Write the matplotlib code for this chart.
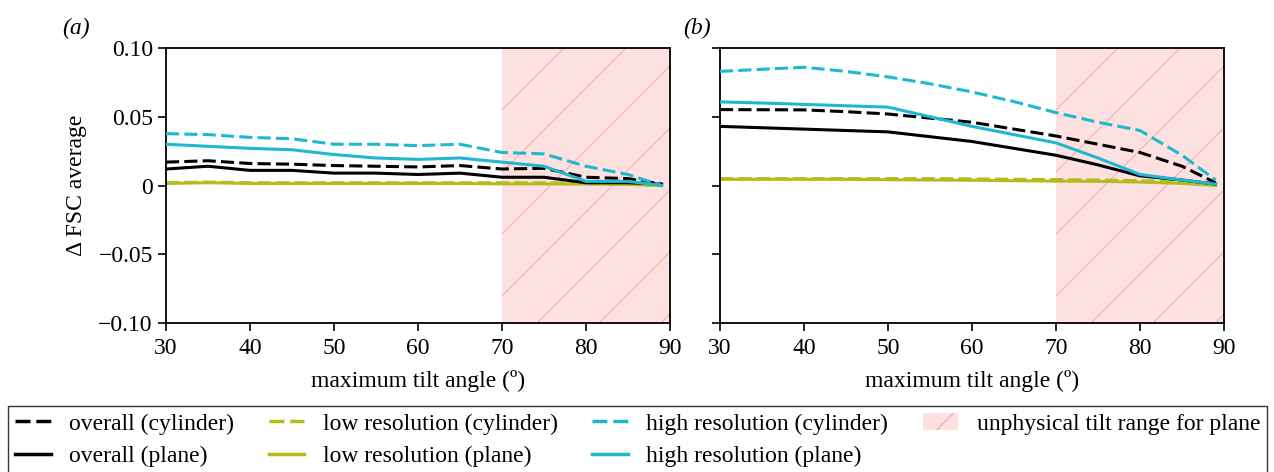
import numpy as np
import matplotlib
matplotlib.use('Agg')
import matplotlib.pyplot as plt
from matplotlib.lines import Line2D
from matplotlib.patches import Patch, Rectangle

plt.rcParams['font.family'] = 'Liberation Serif'

# data
angles = [30, 35, 40, 45, 50, 55, 60, 65, 70, 75, 80, 85, 89]

# (a)
a_overall_cyl = [0.017, 0.018, 0.016, 0.0155, 0.0145, 0.014, 0.0135, 0.0145, 0.012, 0.0125, 0.006, 0.005, 0.001]
a_overall_plane = [0.012, 0.014, 0.011, 0.011, 0.009, 0.009, 0.008, 0.009, 0.006, 0.006, 0.002, 0.002, 0.001]
a_low_cyl = [0.002, 0.0025, 0.002, 0.002, 0.002, 0.002, 0.002, 0.002, 0.002, 0.002, 0.0015, 0.001, 0.0]
a_low_plane = [0.0015, 0.002, 0.0015, 0.0015, 0.0015, 0.0015, 0.0015, 0.0015, 0.0012, 0.0012, 0.001, 0.0008, 0.0]
a_high_cyl = [0.0377, 0.037, 0.035, 0.034, 0.030, 0.030, 0.029, 0.030, 0.024, 0.023, 0.014, 0.008, 0.0]
a_high_plane = [0.030, 0.0285, 0.027, 0.026, 0.0225, 0.020, 0.019, 0.020, 0.017, 0.014, 0.003, 0.003, 0.0]

# (b)
b_overall_cyl = [0.0552, 0.0551, 0.055, 0.0537, 0.052, 0.049, 0.046, 0.041, 0.036, 0.030, 0.024, 0.014, 0.002]
b_overall_plane = [0.043, 0.042, 0.041, 0.040, 0.039, 0.0355, 0.032, 0.027, 0.022, 0.015, 0.007, 0.004, 0.001]
b_low_cyl = [0.005, 0.005, 0.005, 0.005, 0.005, 0.005, 0.0048, 0.0045, 0.0043, 0.004, 0.0035, 0.0025, 0.001]
b_low_plane = [0.0045, 0.0045, 0.0045, 0.0045, 0.0042, 0.004, 0.0038, 0.0035, 0.0032, 0.003, 0.0025, 0.0015, 0.0]
b_high_cyl = [0.083, 0.0845, 0.086, 0.083, 0.079, 0.074, 0.068, 0.061, 0.053, 0.046, 0.040, 0.022, 0.004]
b_high_plane = [0.0608, 0.060, 0.059, 0.058, 0.057, 0.050, 0.043, 0.037, 0.031, 0.020, 0.008, 0.004, 0.001]

unphysical = (70, 90)

BLACK = '#000000'
OLIVE = '#b4bc1c'
CYAN = '#20b8cf'
PINK = '#fde1e1'
PINK_LINE = '#f6a8a8'
DASH = (0, (4.3, 1.7))

fig = plt.figure(figsize=(12.74, 4.72), dpi=100)
ax_a = fig.add_axes([166/1274, 1 - 323/472, 504/1274, 275/472])
ax_b = fig.add_axes([720/1274, 1 - 323/472, 504/1274, 275/472])

panels = [
    (ax_a, a_overall_cyl, a_overall_plane, a_low_cyl, a_low_plane, a_high_cyl, a_high_plane),
    (ax_b, b_overall_cyl, b_overall_plane, b_low_cyl, b_low_plane, b_high_cyl, b_high_plane),
]

for ax, ocyl, opl, lcyl, lpl, hcyl, hpl in panels:
    ax.set_xlim(30, 90)
    ax.set_ylim(-0.1, 0.1)
    # unphysical region with sparse hatch
    rect = Rectangle((unphysical[0], -0.1), unphysical[1] - unphysical[0], 0.2,
                     facecolor=PINK, edgecolor='none', zorder=0)
    ax.add_patch(rect)
    # hatch lines at 45 degrees on screen
    xs_per_px = 60 / 504
    dx = 275 * xs_per_px
    for c in np.arange(unphysical[0] - dx, unphysical[1] + 1, 62 * xs_per_px):
        ln, = ax.plot([c, c + dx], [-0.1, 0.1], color=PINK_LINE, lw=0.7, zorder=0.5)
        ln.set_clip_path(rect)

    ax.plot(angles, lcyl, color=OLIVE, lw=2.2, ls=DASH, zorder=2)
    ax.plot(angles, lpl, color=OLIVE, lw=2.2, zorder=2)
    ax.plot(angles, opl, color=BLACK, lw=2.2, zorder=3)
    ax.plot(angles, ocyl, color=BLACK, lw=2.2, ls=DASH, zorder=3)
    ax.plot(angles, hpl, color=CYAN, lw=2.2, zorder=4)
    ax.plot(angles, hcyl, color=CYAN, lw=2.2, ls=DASH, zorder=4)

    ax.set_xticks([30, 40, 50, 60, 70, 80, 90])
    ax.set_yticks([-0.1, -0.05, 0, 0.05, 0.1])
    ax.tick_params(direction='out', length=6, width=1.2, labelsize=17)
    ax.tick_params(axis='x', pad=5)
    for s in ax.spines.values():
        s.set_linewidth(1.3)
    ax.set_xlabel('maximum tilt angle (º)', fontsize=17, labelpad=8)

ax_a.set_yticklabels(['\u22120.10', '\u22120.05', '0', '0.05', '0.10'])
ax_a.set_ylabel('\u0394 FSC average', fontsize=17, labelpad=8)
ax_b.set_yticklabels([])

fig.text(62/1274, 1 - 28/472, '(a)', fontsize=17, style='italic', va='center')
fig.text(683/1274, 1 - 28/472, '(b)', fontsize=17, style='italic', va='center')

handles = [
    Line2D([], [], color=BLACK, lw=2.5, ls=DASH),
    Line2D([], [], color=BLACK, lw=2.5),
    Line2D([], [], color=OLIVE, lw=2.5, ls=DASH),
    Line2D([], [], color=OLIVE, lw=2.5),
    Line2D([], [], color=CYAN, lw=2.5, ls=DASH),
    Line2D([], [], color=CYAN, lw=2.5),
    Patch(facecolor=PINK, edgecolor=PINK_LINE, lw=0, hatch='/'),
]
labels = [
    'overall (cylinder)', 'overall (plane)',
    'low resolution (cylinder)', 'low resolution (plane)',
    'high resolution (cylinder)', 'high resolution (plane)',
    'unphysical tilt range for plane',
]
plt.rcParams['hatch.color'] = PINK_LINE
leg = fig.legend(handles, labels, ncol=4, loc='upper left',
                 bbox_to_anchor=(8/1274, 1 - 406/472),
                 fontsize=17, frameon=True, fancybox=False,
                 edgecolor='black', borderaxespad=0, handlelength=1.5,
                 handletextpad=0.8, columnspacing=1.45, labelspacing=0.45,
                 borderpad=0.3)
leg.get_frame().set_linewidth(1.0)

fig.savefig('out.png', dpi=100)
